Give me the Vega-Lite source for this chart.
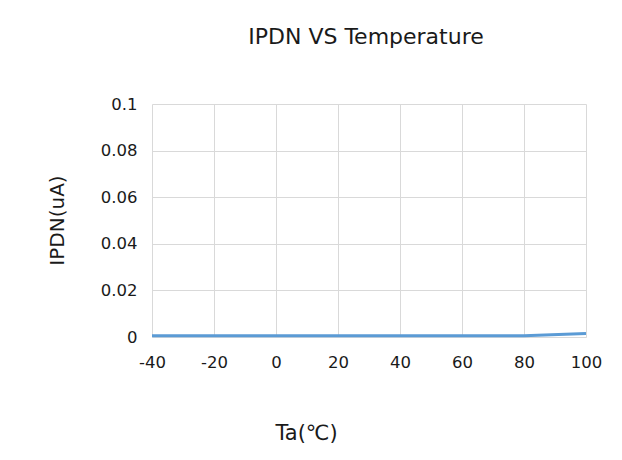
{
  "$schema": "https://vega.github.io/schema/vega-lite/v6.json",
  "width": 434,
  "height": 233,
  "autosize": {"type": "none"},
  "padding": {"left": 152, "top": 104, "right": 36, "bottom": 123},
  "background": "white",
  "title": {
    "text": "IPDN VS Temperature",
    "font": "DejaVu Sans",
    "fontSize": 22,
    "fontWeight": "normal",
    "color": "#1a1a1a",
    "anchor": "middle",
    "dx": -3,
    "offset": 47
  },
  "data": {
    "values": [
      {"Ta": -40, "I": 0.0005},
      {"Ta": -20, "I": 0.0005},
      {"Ta": 0, "I": 0.0005},
      {"Ta": 20, "I": 0.0005},
      {"Ta": 40, "I": 0.0005},
      {"Ta": 60, "I": 0.0005},
      {"Ta": 80, "I": 0.0005},
      {"Ta": 100, "I": 0.0015}
    ]
  },
  "mark": {"type": "line", "color": "#5B9BD5", "strokeWidth": 3, "clip": false},
  "encoding": {
    "x": {
      "field": "Ta",
      "type": "quantitative",
      "scale": {"domain": [-40, 100], "nice": false, "zero": false},
      "axis": {
        "values": [-40, -20, 0, 20, 40, 60, 80, 100],
        "labelExpr": "datum.value + ''",
        "labelFlush": false,
        "labelOverlap": false,
        "title": "Ta(℃)",
        "titleX": 154,
        "titleY": 96,
        "titleAlign": "center",
        "titleBaseline": "middle",
        "titleFontSize": 21,
        "labelPadding": 17
      }
    },
    "y": {
      "field": "I",
      "type": "quantitative",
      "scale": {"domain": [0, 0.1], "nice": false},
      "axis": {
        "values": [0, 0.02, 0.04, 0.06, 0.08, 0.1],
        "labelExpr": "format(datum.value, '~g')",
        "labelOverlap": false,
        "title": "IPDN(uA)",
        "titleX": -95,
        "titleY": 116,
        "titleAngle": -90,
        "titleBaseline": "middle",
        "titleAlign": "center",
        "titleFontSize": 20,
        "labelPadding": 15
      }
    }
  },
  "config": {
    "view": {"stroke": null},
    "axis": {
      "domain": false,
      "ticks": false,
      "grid": true,
      "gridColor": "#d9d9d9",
      "gridWidth": 1,
      "labelFont": "DejaVu Sans",
      "labelFontSize": 16.5,
      "labelColor": "#1a1a1a",
      "titleFont": "DejaVu Sans",
      "titleFontWeight": "normal",
      "titleColor": "#1a1a1a"
    }
  }
}
